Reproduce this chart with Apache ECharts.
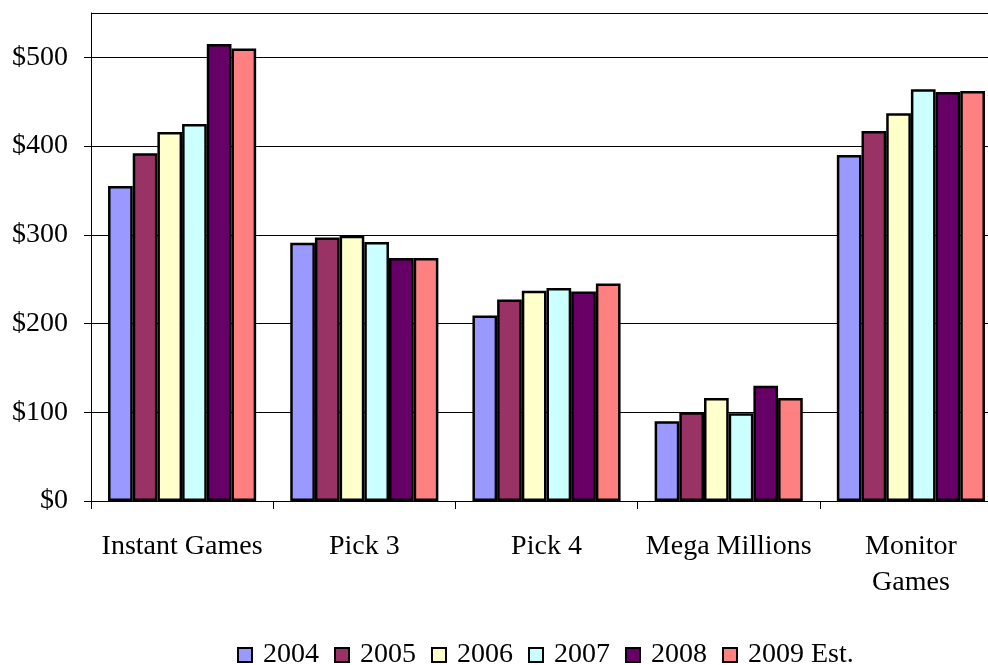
<!DOCTYPE html>
<html>
<head>
<meta charset="utf-8">
<style>
html,body{margin:0;padding:0;background:#fff;}
#chart{width:988px;height:665px;}
</style>
<script src="https://cdn.jsdelivr.net/npm/echarts@6/dist/echarts.min.js"></script>
</head>
<body>
<div id="chart"></div>
<script>
const categories = ['Instant Games', 'Pick 3', 'Pick 4', 'Mega Millions', 'Monitor Games'];
const seriesNames = ['2004', '2005', '2006', '2007', '2008', '2009 Est.'];
const v2004 = [355, 291, 209, 90, 390];
const v2005 = [392, 297, 227, 100, 417];
const v2006 = [416, 299, 237, 116, 437];
const v2007 = [425, 292, 240, 99, 464];
const v2008 = [515, 274, 236, 130, 461];
const v2009 = [510, 274, 245, 116, 462];
const yTicks = [0, 100, 200, 300, 400, 500];

const values = [v2004, v2005, v2006, v2007, v2008, v2009];
const colors = ['#9999FF', '#993366', '#FFFFCC', '#CCFFFF', '#660066', '#FF8080'];
const FONT = "'Liberation Serif', 'Times New Roman', serif";

const chart = echarts.init(document.getElementById('chart'));
chart.setOption({
  animation: false,
  textStyle: { fontFamily: FONT, color: '#000' },
  grid: { left: 91, top: 13, width: 911, height: 488, show: false, outerBoundsMode: 'none', containLabel: false },
  legend: {
    left: 232, top: 636,
    icon: 'rect',
    itemWidth: 14, itemHeight: 14, itemGap: 15,
    textStyle: { fontFamily: FONT, fontSize: 28, color: '#000', padding: [0, 0, 0, 6] },
    data: seriesNames
  },
  xAxis: {
    type: 'category',
    data: categories,
    axisLine: { lineStyle: { color: '#000', width: 1 } },
    axisTick: { show: true, length: 8, lineStyle: { color: '#000' } },
    axisLabel: {
      fontFamily: FONT, fontSize: 28, color: '#000', margin: 28, lineHeight: 36,
      interval: 0,
      formatter: v => v === 'Monitor Games' ? 'Monitor\nGames' : v
    }
  },
  yAxis: {
    type: 'value',
    min: 0, max: 550, interval: 100,
    axisLine: { show: true, lineStyle: { color: '#000', width: 1 } },
    axisTick: { show: true, length: 7, lineStyle: { color: '#000' } },
    axisLabel: {
      fontFamily: FONT, fontSize: 28, color: '#000', margin: 23,
      showMaxLabel: false,
      formatter: v => yTicks.includes(v) ? '$' + v : ''
    },
    splitLine: { show: true, lineStyle: { color: '#000', width: 1 } }
  },
  series: seriesNames.map((name, i) => ({
    name: name,
    type: 'bar',
    data: values[i],
    barGap: '0%',
    barCategoryGap: '18.7%',
    itemStyle: { color: colors[i], borderColor: '#000', borderWidth: 2.5 }
  }))
});
</script>
</body>
</html>
